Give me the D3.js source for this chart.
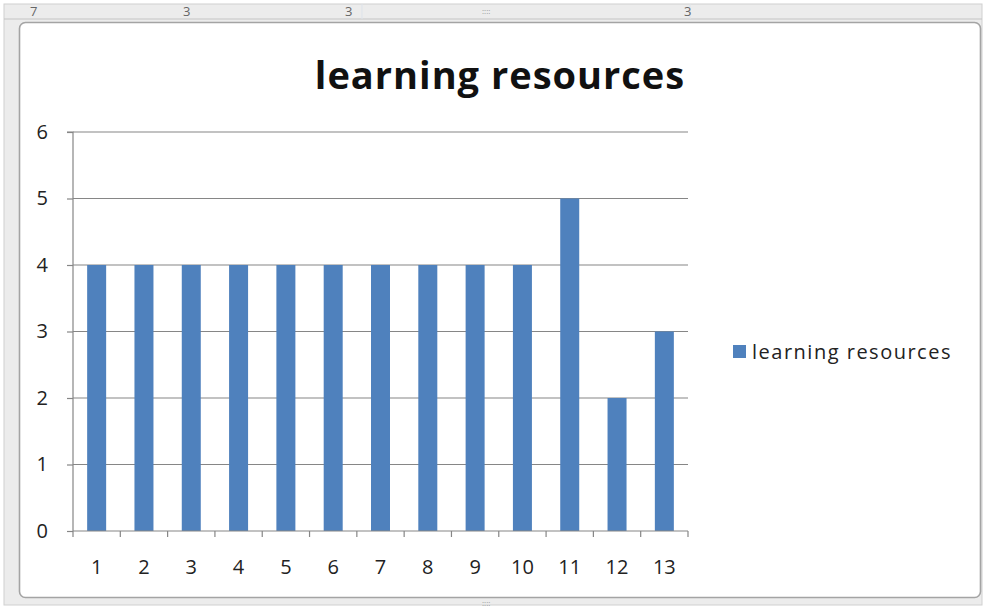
<!DOCTYPE html>
<html><head><meta charset="utf-8">
<script src="https://cdn.jsdelivr.net/npm/d3@7"></script>
<style>html,body{margin:0;padding:0;background:#fff;}svg{display:block;}</style>
</head><body>
<svg id="c" width="985" height="609"></svg>
<script>
const categories = ["1","2","3","4","5","6","7","8","9","10","11","12","13"];
const values = [4,4,4,4,4,4,4,4,4,4,5,2,3];
const yTicks = [0,1,2,3,4,5,6];
const seriesName = "learning resources";
const titleText = "learning resources";

const svg = d3.select("#c");
const FONT = "'Open Sans', sans-serif";
// spreadsheet backdrop
svg.append("rect").attr("x",0).attr("y",0).attr("width",985).attr("height",609).attr("fill","#ffffff");
svg.append("rect").attr("x",4).attr("y",4).attr("width",978).attr("height",601).attr("fill","#ececec").attr("stroke","#d0d0d0");
svg.append("line").attr("x1",4).attr("x2",982).attr("y1",19).attr("y2",19).attr("stroke","#c4c4c4");
[362,690].forEach(x=>svg.append("line").attr("x1",x).attr("x2",x).attr("y1",4).attr("y2",19).attr("stroke","#dde3ea"));
[[30,"7"],[183,"3"],[345,"3"],[684,"3"]].forEach(([xx,t])=>
  svg.append("text").attr("x",xx).attr("y",16).attr("font-family",FONT).attr("font-size",13).attr("fill","#666").text(t));
svg.append("text").attr("x",482).attr("y",14).attr("font-family",FONT).attr("font-size",8).attr("fill","#999").text("::::");
svg.append("text").attr("x",482).attr("y",606).attr("font-family",FONT).attr("font-size",8).attr("fill","#999").text("::::");
// chart area
svg.append("rect").attr("x",19.5).attr("y",22.5).attr("width",961).attr("height",575).attr("rx",6)
  .attr("fill","#ffffff").attr("stroke","#a4a4a4").attr("stroke-width",1.6);

const margin = {left:73, right:688, top:132, bottom:531};
const xb = d3.scaleBand().domain(categories).range([margin.left, margin.right]);
const y = d3.scaleLinear().domain([0,6]).range([margin.bottom, margin.top]);

// gridlines
svg.append("g").selectAll("line").data(yTicks.filter(d=>d>0)).join("line")
  .attr("x1",margin.left).attr("x2",margin.right)
  .attr("y1",d=>y(d)).attr("y2",d=>y(d)).attr("stroke","#868686").attr("stroke-width",1.2);

// bars
svg.append("g").selectAll("rect").data(values).join("rect")
  .attr("x",(d,i)=>xb(categories[i]) + xb.bandwidth()/2 - 9.5)
  .attr("width",19)
  .attr("y",d=>y(d)).attr("height",d=>y(0)-y(d))
  .attr("fill","#4f81bd");

// y axis
const yAxis = d3.axisLeft(y).tickValues(yTicks).tickSize(6).tickPadding(19).tickFormat(d3.format("d"));
const gy = svg.append("g").attr("transform",`translate(${margin.left},0)`).call(yAxis);
gy.select(".domain").attr("stroke","#868686").attr("stroke-width",1.2).attr("d",`M-6,${margin.top}H0V${margin.bottom}`);
gy.selectAll(".tick line").attr("stroke","#868686").attr("stroke-width",1.2);
gy.selectAll("text").attr("font-family",FONT).attr("font-size",20).attr("fill","#222");

// x axis
const gx = svg.append("g").attr("transform",`translate(0,${margin.bottom})`);
gx.append("line").attr("x1",margin.left).attr("x2",margin.right).attr("stroke","#868686").attr("stroke-width",1.2);
const bounds = categories.map(c=>xb(c)).concat([margin.right]);
gx.selectAll("line.t").data(bounds).join("line").attr("class","t")
  .attr("x1",d=>d).attr("x2",d=>d).attr("y1",0).attr("y2",6).attr("stroke","#868686").attr("stroke-width",1.2);
gx.selectAll("text").data(categories).join("text")
  .attr("x",d=>xb(d)+xb.bandwidth()/2).attr("y",43)
  .attr("text-anchor","middle").attr("font-family",FONT).attr("font-size",20).attr("fill","#222")
  .text(d=>d);

// title
svg.append("text").attr("x",500).attr("y",89).attr("text-anchor","middle")
  .attr("font-family",FONT).attr("font-weight","bold").attr("font-size",38).attr("letter-spacing",1).attr("fill","#111")
  .text(titleText);

// legend
svg.append("rect").attr("x",733).attr("y",345).attr("width",13).attr("height",13).attr("fill","#4f81bd");
svg.append("text").attr("x",752).attr("y",359).attr("font-family",FONT).attr("font-size",20).attr("letter-spacing",1.5).attr("fill","#222").text(seriesName);
</script>
</body></html>
